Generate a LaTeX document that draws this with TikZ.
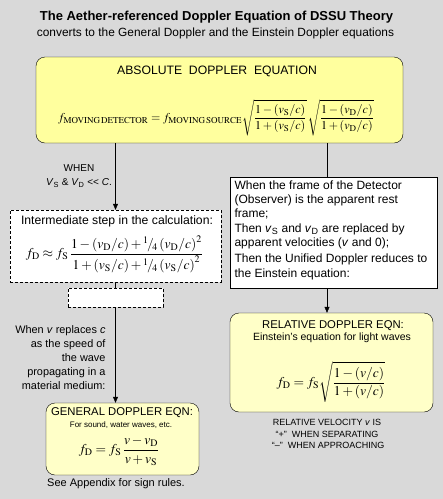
\documentclass[tikz,border=0pt]{standalone}
\usepackage{amsmath}
\usepackage{mathptmx}
\usepackage[no-math]{fontspec}
\setmainfont{Liberation Sans}
\usetikzlibrary{arrows.meta,positioning}
\definecolor{bggray}{HTML}{D9D9D9}
\definecolor{absyellow}{HTML}{FFFF9E}
\definecolor{paleyellow}{HTML}{FFFFC8}
\newcommand{\sub}[1]{\mathrm{#1}}
\begin{document}
\begin{tikzpicture}[x=1pt, y=-1pt, font=\fontsize{12.2}{14}\selectfont,
    absbox/.style={draw, rounded corners=9pt, fill=absyellow, inner sep=0pt},
    eqnbox/.style={draw, rounded corners=9pt, fill=paleyellow, inner sep=0pt},
    stepbox/.style={draw, dashed, dash pattern=on 3pt off 2pt, fill=white, inner sep=0pt},
    notebox/.style={draw, fill=white, inner sep=0pt},
    arrow/.style={-{Triangle[width=5pt,length=6pt]}},
    mathsize/.style={font=\fontsize{13.5}{16}\selectfont, inner sep=0pt},
    eqntitle/.style={font=\fontsize{11.3}{13}\selectfont},
    caps/.style={font=\fontsize{9}{11.5}\selectfont, align=center}]
  \useasboundingbox[fill=bggray] (0,0) rectangle (443,499);
  % heading
  \node[font=\bfseries\fontsize{13}{15}\selectfont] (title) at (216.5,17)
    {The Aether-referenced Doppler Equation of DSSU Theory};
  \node[font=\fontsize{11.9}{14}\selectfont] (subtitle) at (215.5,33)
    {converts to the General Doppler and the Einstein Doppler equations};
  % absolute doppler
  \node[absbox, minimum width=367pt, minimum height=86pt] (absolute) at (219.5,100) {};
  \node (abstitle) at (217,71) {ABSOLUTE\ \ DOPPLER\ \ EQUATION};
  \node[font=\fontsize{12}{14}\selectfont] (abseqn) at (216,118)
    {$f_{\sub{MOVING\,DETECTOR}} = f_{\sub{MOVING\,SOURCE}}
      \sqrt{\dfrac{1-\left(v_{\sub S}/c\right)}{1+\left(v_{\sub S}/c\right)}}\,
      \sqrt{\dfrac{1-\left(v_{\sub D}/c\right)}{1+\left(v_{\sub D}/c\right)}}$};
  \coordinate (leftx) at (115.5,0);
  \coordinate (rightx) at (327,0);
  % left column
  \node[caps, font=\fontsize{10}{14}\selectfont] (when) at (79,176)
    {WHEN\\ \textit{V}\textsubscript{S} \& \textit{V}\textsubscript{D} <{}< \textit{C}.};
  \node[stepbox, minimum width=211pt, minimum height=72pt] (intermediate) at (115.5,246) {};
  \node (intertext) at (117,221) {Intermediate step in the calculation:};
  \node[mathsize] (intereqn) at (114.5,254)
    {$f_{\sub D} \approx f_{\sub S}\,
      \dfrac{1-\left(v_{\sub D}/c\right)+{}^1\!/\!_4\left(v_{\sub D}/c\right)^2}
            {1+\left(v_{\sub S}/c\right)+{}^1\!/\!_4\left(v_{\sub S}/c\right)^2}$};
  \node[stepbox, minimum width=95pt, minimum height=19pt] (blank) at (115.5,297.5) {};
  \node[align=right, anchor=east, font=\fontsize{10.9}{14}\selectfont] (medium) at (109,358)
    {When \textit{v} replaces \textit{c}\\ as the speed of\\ the wave\\ propagating in a\\ material medium:};
  \node[eqnbox, minimum width=153pt, minimum height=72pt] (general) at (122.5,439) {};
  \node[eqntitle] (gentitle) at (122,413) {GENERAL DOPPLER EQN:};
  \node[font=\fontsize{8}{9}\selectfont, inner sep=0pt] (gensub) at (121,425.5) {For sound, water waves, etc.};
  \node[mathsize] (geneqn) at (119,451)
    {$f_{\sub D} = f_{\sub S}\,\dfrac{v-v_{\sub D}}{v+v_{\sub S}}$};
  \node[font=\fontsize{11}{13}\selectfont] (signrules) at (116,484) {See Appendix for sign rules.};
  % right column
  \node[notebox, minimum width=207pt, minimum height=111pt] (detector) at (333.5,232.5) {};
  \node[anchor=north west, align=left, font=\fontsize{12}{14.3}\selectfont] (dettext) at (231,177)
    {When the frame of the Detector\\ (Observer) is the apparent rest\\ frame;\\
     Then \textit{v}\textsubscript{S} and \textit{v}\textsubscript{D} are replaced by\\
     apparent velocities (\textit{v} and 0);\\[2pt]
     Then the Unified Doppler reduces to\\ the Einstein equation:};
  \node[eqnbox, minimum width=203pt, minimum height=99pt] (relative) at (331.5,362.5) {};
  \node[eqntitle] (reltitle) at (333,326) {RELATIVE DOPPLER EQN:};
  \node[font=\fontsize{10.5}{12}\selectfont] (relsub) at (332,338) {Einstein's equation for light waves};
  \node[mathsize] (releqn) at (331,382)
    {$f_{\sub D} = f_{\sub S}\sqrt{\dfrac{1-\left(v/c\right)}{1+\left(v/c\right)}}$};
  \node[caps] (velocity) at (327,434)
    {RELATIVE VELOCITY \textit{v} IS\\ ``+'' \ WHEN SEPARATING\\ \ ``--'' \ WHEN APPROACHING};
  % connectors
  \draw[arrow] (absolute.south -| leftx) -- (intermediate.north -| leftx);
  \draw (intermediate.south -| leftx) -- (blank.north -| leftx);
  \draw[arrow] (blank.south -| leftx) -- (general.north -| leftx);
  \draw (absolute.south -| rightx) -- (detector.north -| rightx);
  \draw[arrow] (detector.south -| rightx) -- (relative.north -| rightx);
\end{tikzpicture}
\end{document}
